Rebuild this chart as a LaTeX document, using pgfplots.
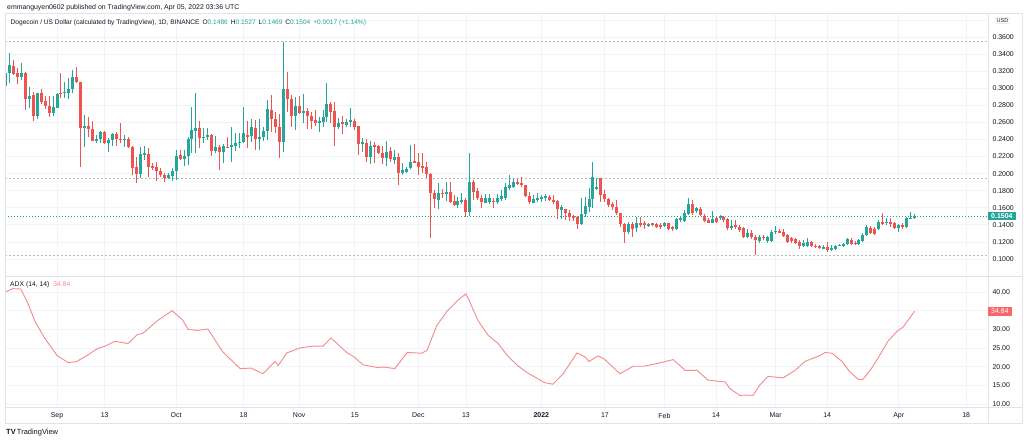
\documentclass[border=0pt]{standalone}
\usepackage{pgfplots}
\pgfplotsset{compat=1.18}
\usepackage{pgfplotstable}
\usepackage{fontspec}
\setmainfont{Liberation Sans}
\definecolor{up}{HTML}{26A69A}
\definecolor{dn}{HTML}{EF5350}
\definecolor{gridc}{HTML}{F0F3FA}
\definecolor{framec}{HTML}{E0E3EB}
\definecolor{txt}{HTML}{131722}
\definecolor{adxc}{HTML}{F7888B}
\definecolor{adxbox}{HTML}{F7676B}

\pgfplotstableread{
d o h l c
-13 .3030 .3194 .3018 .3175
-12 .3175 .3409 .3065 .3272
-11 .3264 .3331 .3155 .3163
-10 .3175 .3233 .3050 .3136
-9 .3136 .3292 .3096 .3182
-8 .3175 .3186 .2745 .2874
-7 .2874 .3011 .2765 .2913
-6 .2921 .2960 .2620 .2675
-5 .2675 .2948 .2636 .2940
-4 .2940 .2987 .2811 .2843
-3 .2851 .2909 .2753 .2792
-2 .2792 .2909 .2667 .2706
-1 .2706 .2909 .2675 .2776
0 .2772 .2940 .2765 .2933
1 .2948 .3175 .2882 .2940
2 .2948 .3077 .2882 .2960
3 .2948 .3116 .2870 .2987
4 .2987 .3214 .2940 .3136
5 .3136 .3253 .3065 .3077
6 .3077 .3077 .2081 .2538
7 .2542 .2687 .2316 .2558
8 .2558 .2659 .2433 .2519
9 .2519 .2620 .2386 .2386
10 .2390 .2452 .2362 .2405
11 .2401 .2503 .2362 .2483
12 .2491 .2503 .2347 .2355
13 .2355 .2421 .2257 .2398
14 .2394 .2480 .2323 .2464
15 .2464 .2487 .2323 .2401
16 .2409 .2589 .2362 .2394
17 .2394 .2456 .2316 .2409
18 .2401 .2425 .2296 .2316
19 .2316 .2323 .1984 .2070
20 .2077 .2198 .1886 .1992
21 .1992 .2316 .1945 .2230
22 .2226 .2323 .2160 .2238
23 .2230 .2296 .1964 .2074
24 .2089 .2120 .2042 .2070
25 .2074 .2140 .1917 .2035
26 .2035 .2062 .1964 .1980
27 .1984 .2003 .1906 .1945
28 .1953 .2003 .1933 .1984
29 .1972 .2062 .1910 .2031
30 .2031 .2277 .1925 .2210
31 .2218 .2277 .2160 .2167
32 .2171 .2277 .2089 .2206
33 .2206 .2425 .2101 .2405
34 .2405 .2784 .2245 .2511
35 .2503 .2940 .2245 .2530
36 .2530 .2620 .2296 .2421
37 .2413 .2530 .2355 .2433
38 .2425 .2530 .2394 .2452
39 .2452 .2464 .2210 .2269
40 .2265 .2440 .2238 .2308
41 .2308 .2335 .2042 .2249
42 .2249 .2347 .2128 .2323
43 .2316 .2433 .2296 .2308
44 .2316 .2542 .2140 .2331
45 .2323 .2480 .2269 .2362
46 .2362 .2472 .2296 .2374
47 .2374 .2784 .2355 .2472
48 .2452 .2620 .2296 .2440
49 .2440 .2636 .2374 .2542
50 .2530 .2628 .2277 .2405
51 .2405 .2644 .2277 .2433
52 .2433 .2542 .2386 .2503
53 .2503 .2862 .2394 .2753
54 .2745 .2921 .2491 .2640
55 .2640 .2726 .2480 .2550
56 .2550 .2698 .2179 .2366
57 .2374 .3545 .2257 .2991
58 .2991 .3186 .2726 .2870
59 .2870 .2921 .2542 .2675
60 .2675 .2901 .2511 .2792
61 .2796 .2909 .2698 .2706
62 .2714 .2933 .2589 .2737
63 .2733 .2765 .2519 .2679
64 .2679 .2726 .2519 .2620
65 .2628 .2745 .2558 .2589
66 .2597 .2667 .2491 .2616
67 .2608 .2745 .2542 .2659
68 .2667 .3057 .2608 .2815
69 .2815 .2843 .2589 .2726
70 .2733 .2835 .2323 .2542
71 .2542 .2647 .2519 .2589
72 .2608 .2675 .2464 .2589
73 .2569 .2636 .2542 .2608
74 .2608 .2765 .2542 .2628
75 .2620 .2644 .2511 .2550
76 .2558 .2558 .2218 .2347
77 .2347 .2413 .2257 .2366
78 .2355 .2401 .2140 .2191
79 .2198 .2386 .2113 .2327
80 .2335 .2374 .2128 .2323
81 .2327 .2335 .2230 .2245
82 .2245 .2323 .2113 .2187
83 .2187 .2386 .2093 .2249
84 .2265 .2308 .2140 .2167
85 .2159 .2277 .2113 .2198
86 .2198 .2238 .1867 .2003
87 .2003 .2120 .1984 .2042
88 .2023 .2081 .2003 .2050
89 .2062 .2335 .2050 .2140
90 .2148 .2347 .2120 .2128
91 .2132 .2238 .1984 .2081
92 .2089 .2238 .2011 .2074
93 .2081 .2140 .1945 .1992
94 .1995 .2003 .1242 .1777
95 .1777 .1808 .1593 .1699
96 .1691 .1886 .1582 .1769
97 .1777 .1816 .1710 .1761
98 .1761 .1906 .1683 .1785
99 .1789 .1906 .1660 .1671
100 .1683 .1749 .1621 .1632
101 .1632 .1730 .1593 .1683
102 .1679 .1769 .1644 .1691
103 .1691 .1710 .1496 .1554
104 .1554 .2245 .1504 .1898
105 .1898 .1925 .1691 .1789
106 .1796 .1828 .1691 .1710
107 .1718 .1749 .1593 .1671
108 .1660 .1761 .1652 .1710
109 .1671 .1761 .1644 .1710
110 .1683 .1710 .1593 .1664
111 .1671 .1761 .1644 .1710
112 .1699 .1808 .1683 .1742
113 .1710 .1886 .1691 .1839
114 .1828 .1984 .1808 .1867
115 .1847 .1945 .1828 .1898
116 .1898 .1933 .1867 .1878
117 .1894 .1956 .1847 .1867
118 .1867 .1867 .1730 .1738
119 .1738 .1789 .1644 .1671
120 .1660 .1749 .1652 .1699
121 .1699 .1769 .1671 .1710
122 .1699 .1749 .1671 .1730
123 .1718 .1761 .1683 .1738
124 .1730 .1749 .1683 .1691
125 .1691 .1749 .1644 .1671
126 .1679 .1691 .1465 .1582
127 .1574 .1632 .1465 .1605
128 .1585 .1585 .1457 .1535
129 .1543 .1574 .1449 .1488
130 .1504 .1515 .1449 .1476
131 .1488 .1504 .1347 .1410
132 .1410 .1710 .1398 .1527
133 .1523 .1730 .1496 .1621
134 .1613 .1828 .1554 .1703
135 .1703 .2140 .1593 .1964
136 .1816 .1953 .1808 .1839
137 .1945 .1945 .1671 .1749
138 .1761 .1808 .1671 .1699
139 .1699 .1710 .1605 .1632
140 .1644 .1671 .1574 .1605
141 .1613 .1691 .1515 .1535
142 .1535 .1543 .1379 .1410
143 .1410 .1426 .1191 .1320
144 .1320 .1437 .1293 .1410
145 .1410 .1437 .1254 .1351
146 .1359 .1488 .1320 .1418
147 .1418 .1496 .1379 .1398
148 .1426 .1445 .1347 .1398
149 .1398 .1426 .1379 .1410
150 .1418 .1426 .1386 .1402
151 .1410 .1426 .1367 .1379
152 .1398 .1426 .1347 .1371
153 .1386 .1437 .1371 .1418
154 .1418 .1426 .1340 .1347
155 .1371 .1386 .1332 .1347
156 .1351 .1476 .1340 .1465
157 .1457 .1496 .1437 .1476
158 .1445 .1574 .1437 .1535
159 .1527 .1710 .1515 .1644
160 .1644 .1691 .1515 .1535
161 .1566 .1613 .1535 .1593
162 .1582 .1605 .1504 .1515
163 .1504 .1527 .1437 .1449
164 .1457 .1476 .1418 .1426
165 .1426 .1562 .1418 .1465
166 .1476 .1496 .1426 .1437
167 .1476 .1515 .1457 .1508
168 .1496 .1504 .1437 .1457
169 .1465 .1476 .1340 .1359
170 .1367 .1457 .1340 .1386
171 .1398 .1457 .1347 .1371
172 .1371 .1398 .1320 .1340
173 .1359 .1379 .1242 .1262
174 .1262 .1347 .1242 .1301
175 .1301 .1340 .1230 .1254
176 .1254 .1281 .1047 .1223
177 .1215 .1281 .1191 .1254
178 .1262 .1281 .1223 .1242
179 .1215 .1269 .1191 .1254
180 .1215 .1340 .1203 .1320
181 .1316 .1386 .1293 .1332
182 .1332 .1347 .1301 .1312
183 .1320 .1347 .1254 .1269
184 .1281 .1289 .1191 .1203
185 .1242 .1262 .1184 .1215
186 .1230 .1242 .1176 .1191
187 .1203 .1223 .1113 .1152
188 .1152 .1223 .1137 .1191
189 .1152 .1242 .1144 .1203
190 .1195 .1215 .1144 .1152
191 .1156 .1176 .1125 .1137
192 .1152 .1164 .1113 .1125
193 .1125 .1164 .1113 .1144
194 .1137 .1203 .1086 .1106
195 .1106 .1160 .1094 .1133
196 .1121 .1168 .1109 .1156
197 .1156 .1180 .1148 .1164
198 .1152 .1184 .1144 .1176
199 .1176 .1242 .1164 .1230
200 .1223 .1242 .1164 .1176
201 .1191 .1215 .1164 .1176
202 .1176 .1230 .1164 .1223
203 .1215 .1301 .1203 .1281
204 .1281 .1398 .1269 .1379
205 .1359 .1386 .1289 .1301
206 .1347 .1371 .1281 .1293
207 .1347 .1457 .1340 .1437
208 .1437 .1535 .1398 .1410
209 .1418 .1476 .1398 .1437
210 .1437 .1476 .1379 .1410
211 .1418 .1437 .1347 .1359
212 .1359 .1410 .1320 .1398
213 .1398 .1418 .1347 .1371
214 .1371 .1496 .1359 .1476
215 .1476 .1554 .1465 .1484
216 .1486 .1527 .1469 .1504
}\candles

\pgfplotstableread{
d v
-13.1 40.0
-11.1 40.9
-9.1 40.8
-7.3 36.9
-5.5 32.0
-3.0 27.5
0.0 23.0
2.8 21.1
4.8 21.3
7.6 23.0
10.1 24.8
12.1 25.5
14.6 26.8
17.9 26.2
20.2 28.6
21.7 29.0
25.4 32.4
29.0 35.0
31.7 32.4
33.0 30.0
35.3 29.7
38.0 30.1
41.8 23.9
46.1 19.5
48.9 19.6
51.9 18.1
54.9 21.4
55.7 20.3
57.9 23.7
61.2 25.0
64.2 25.5
67.0 25.5
69.0 27.7
73.0 23.8
74.8 22.6
77.1 20.5
81.1 19.7
82.1 19.9
85.1 19.5
88.2 23.8
91.9 23.6
93.2 24.4
95.7 31.1
98.2 34.8
101.0 37.8
103.0 39.5
104.0 37.3
106.0 32.4
108.6 28.4
111.1 26.2
113.4 23.0
115.9 20.4
118.4 18.4
120.4 17.2
122.9 15.7
124.9 15.3
127.5 18.1
131.0 23.7
133.0 22.6
134.0 21.4
136.3 22.9
138.0 21.9
141.8 18.1
145.1 20.1
147.6 20.1
150.1 20.6
152.6 21.2
155.2 21.9
158.2 19.0
161.2 19.0
164.0 16.4
168.3 15.9
169.5 14.1
172.0 12.3
173.8 12.4
175.3 12.3
177.1 15.2
179.1 17.4
182.9 17.0
185.9 19.0
188.4 21.4
192.2 23.0
193.5 23.8
195.2 23.6
197.7 21.4
199.7 18.6
201.8 16.6
203.0 16.6
204.8 19.0
206.8 22.3
209.3 26.8
211.6 29.5
213.1 30.6
216.0 34.84
}\adx

\pgfplotsset{
  tvbase/.style={
    scale only axis, width=983bp,
    xmin=-13.1, xmax=234.5,
    axis line style={draw=none},
    major tick length=0pt,
    xtick={0,12,30,47,61,75,91,103,122,138,153,166,181,194,212,229},
    grid=major,
    major grid style={draw=gridc, line width=0.8bp},
    yticklabel pos=right,
    yticklabel style={font=\fontsize{7}{8}\selectfont, text=txt, anchor=west, xshift=1bp},
    scaled y ticks=false,
    clip mode=individual,
    /pgf/number format/assume math mode=true,
  },
  wick/.style={draw=none, no markers, forget plot,
    error bars/.cd, y dir=both, y explicit, error mark=none,
    error bar style={draw=#1, line width=1bp}},
  body/.style={draw=none, no markers, forget plot,
    error bars/.cd, y dir=both, y explicit, error mark=none,
    error bar style={draw=#1, line width=3bp}},
}

\begin{document}
\begin{tikzpicture}
\path[use as bounding box, fill=white] (0bp,0bp) rectangle (1024bp,-442bp);

% price pane
\begin{axis}[tvbase, at={(5bp,-13bp)}, anchor=north west, height=263bp,
  ymin=0.08008, ymax=0.38811,
  ytick={0.10,0.12,0.14,0.16,0.18,0.20,0.22,0.24,0.26,0.28,0.30,0.32,0.34,0.36},
  extra y ticks={0.38}, extra y tick labels={},
  yticklabel style={/pgf/number format/.cd, fixed, fixed zerofill, precision=4},
  xticklabels={}]
\addplot[gray!55, line width=0.8bp, dash pattern=on 2bp off 2bp] coordinates {(-13.1,0.3545) (234.5,0.3545)};
\addplot[gray!55, line width=0.8bp, dash pattern=on 2bp off 2bp] coordinates {(-13.1,0.1947) (234.5,0.1947)};
\addplot[gray!55, line width=0.8bp, dash pattern=on 2bp off 2bp] coordinates {(-13.1,0.1040) (234.5,0.1040)};
\addplot[up, line width=0.8bp, dash pattern=on 1bp off 2bp] coordinates {(-13.1,0.1504) (234.5,0.1504)};
% wicks
\addplot[wick=up] table[x=d, y expr={\thisrow{c}>=\thisrow{o} ? (\thisrow{h}+\thisrow{l})/2 : nan}, y error expr={(\thisrow{h}-\thisrow{l})/2}] {\candles};
\addplot[wick=dn] table[x=d, y expr={\thisrow{c}<\thisrow{o} ? (\thisrow{h}+\thisrow{l})/2 : nan}, y error expr={(\thisrow{h}-\thisrow{l})/2}] {\candles};
% bodies
\addplot[body=up] table[x=d, y expr={\thisrow{c}>=\thisrow{o} ? (\thisrow{o}+\thisrow{c})/2 : nan}, y error expr={max(abs(\thisrow{c}-\thisrow{o})/2,0.0005)}] {\candles};
\addplot[body=dn] table[x=d, y expr={\thisrow{c}<\thisrow{o} ? (\thisrow{o}+\thisrow{c})/2 : nan}, y error expr={max(abs(\thisrow{c}-\thisrow{o})/2,0.0005)}] {\candles};
\end{axis}

% ADX pane
\begin{axis}[tvbase, at={(5bp,-276bp)}, anchor=north west, height=131bp,
  ymin=9.194, ymax=44.286,
  ytick={10,15,20,25,30,35,40},
  yticklabel style={/pgf/number format/.cd, fixed, fixed zerofill, precision=2},
  xticklabels={Sep,13,Oct,18,Nov,15,Dec,13,\textbf{2022},17,Feb,14,Mar,14,Apr,18},
  xticklabel style={font=\fontsize{7}{8}\selectfont, text=txt, yshift=-2.5bp}]
\addplot[adxc, line width=0.9bp] table[x=d, y=v] {\adx};
\end{axis}

\begin{scope}[x=1bp, y=1bp]
\draw[framec, line width=0.8bp] (5,-13) rectangle (1022,-423);
\draw[framec, line width=0.8bp] (5,-276) -- (1022,-276);
\draw[framec, line width=0.8bp] (5,-407) -- (1022,-407);
\draw[framec, line width=0.8bp] (988,-13) -- (988,-423);
% header
\node[anchor=west, inner sep=0pt, text=txt, font=\fontsize{6.95}{8}\selectfont] at (7,-8) {emmanguyen0602 published on TradingView.com, Apr 05, 2022 03:36 UTC};
\node[anchor=west, inner sep=0pt, text=txt, font=\fontsize{6.6}{8}\selectfont] at (10.5,-23) {Dogecoin / US Dollar (calculated by TradingView), 1D, BINANCE\hspace{3bp}O\textcolor{up}{0.1486}\hspace{3bp}H\textcolor{up}{0.1527}\hspace{3bp}L\textcolor{up}{0.1469}\hspace{3bp}C\textcolor{up}{0.1504}\hspace{3bp}\textcolor{up}{+0.0017 (+1.14\%)}};
\node[anchor=west, inner sep=0pt, text=txt, font=\fontsize{6.8}{8}\selectfont] at (10,-285) {ADX (14, 14)\hspace{4bp}\textcolor{adxc}{34.84}};
% price labels
\node[anchor=center, fill=white, draw=framec, rounded corners=1bp, inner xsep=1.5bp, inner ysep=1bp, text=txt, font=\fontsize{5.5}{6}\selectfont] at (1002.5,-20.5) {USD};
\node[anchor=west, fill=up, text=white, inner xsep=3bp, inner ysep=1.8bp, font=\fontsize{7}{8}\selectfont\bfseries] at (988,-216) {0.1504};
\node[anchor=west, fill=adxbox, text=white, inner xsep=3bp, inner ysep=1.8bp, font=\fontsize{7}{8}\selectfont] at (988,-311.3) {34.84};
% footer
\node[anchor=west, inner sep=0pt, text=txt, font=\fontsize{7.5}{8}\selectfont] at (6,-433) {{\bfseries TV}\,TradingView};
\end{scope}
\end{tikzpicture}
\end{document}
